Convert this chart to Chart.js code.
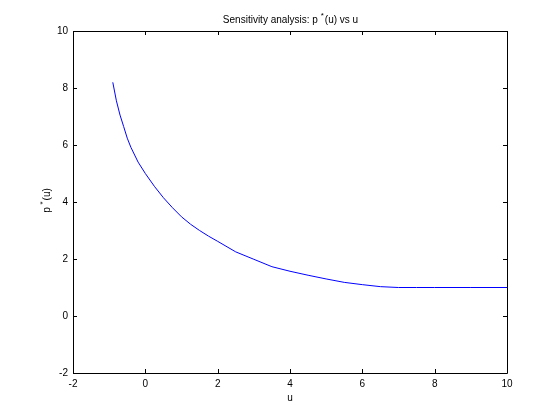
<!DOCTYPE html>
<html>
<head>
<meta charset="utf-8">
<script src="https://cdn.jsdelivr.net/npm/chart.js@4/dist/chart.umd.min.js"></script>
<style>
  html, body { margin: 0; padding: 0; background: #fff; }
  #wrap { width: 560px; height: 420px; }
</style>
</head>
<body>
<div id="wrap"><canvas id="chart"></canvas></div>
<script>
// ===============================
// Data
// ===============================
const uValues = [-0.9, -0.8, -0.7, -0.6, -0.5, -0.4, -0.2, 0, 0.25, 0.5, 0.75, 1, 1.25, 1.5, 1.75, 2, 2.5, 3, 3.5, 4, 4.5, 5, 5.5, 6, 6.5, 7, 7.5, 8, 9, 10];
const pStar   = [8.2, 7.55, 7.05, 6.65, 6.24, 5.92, 5.4, 5.0, 4.55, 4.15, 3.8, 3.48, 3.22, 3.0, 2.8, 2.62, 2.25, 1.99, 1.73, 1.57, 1.43, 1.3, 1.18, 1.1, 1.03, 1.0, 1.0, 1.0, 1.0, 1.0];
const xTicks = [-2, 0, 2, 4, 6, 8, 10];
const yTicks = [-2, 0, 2, 4, 6, 8, 10];

const FONT = '"Liberation Sans Narrow", "Liberation Sans", Arial, sans-serif';

// ===============================
// Box, inward ticks and labels
// ===============================
const matlabAxes = {
  id: "matlabAxes",
  afterDraw(chart) {
    const { ctx, chartArea: a, scales } = chart;
    ctx.save();
    ctx.strokeStyle = "#000";
    ctx.lineWidth = 1;
    ctx.beginPath();
    ctx.rect(Math.round(a.left) + 0.5, Math.round(a.top) + 0.5,
             Math.round(a.right - a.left), Math.round(a.bottom - a.top));
    ctx.stroke();

    // ticks point inward, on all four sides
    ctx.beginPath();
    xTicks.forEach(v => {
      const x = Math.round(scales.x.getPixelForValue(v)) + 0.5;
      ctx.moveTo(x, a.bottom); ctx.lineTo(x, a.bottom - 4);
      ctx.moveTo(x, a.top); ctx.lineTo(x, a.top + 4);
    });
    yTicks.forEach(v => {
      const y = Math.round(scales.y.getPixelForValue(v)) + 0.5;
      ctx.moveTo(a.left, y); ctx.lineTo(a.left + 4, y);
      ctx.moveTo(a.right, y); ctx.lineTo(a.right - 4, y);
    });
    ctx.stroke();

    ctx.fillStyle = "#000";
    ctx.textBaseline = "middle";

    // title with superscript star
    const cx = (a.left + a.right) / 2;
    ctx.font = "10px " + FONT;
    const t1 = "Sensitivity analysis: p ", t2 = "*", t3 = "(u) vs u";
    const w1 = ctx.measureText(t1).width;
    ctx.font = "8px " + FONT;
    const w2 = ctx.measureText(t2).width;
    ctx.font = "10px " + FONT;
    const w3 = ctx.measureText(t3).width;
    let x0 = cx - (w1 + w2 + w3) / 2;
    ctx.textAlign = "left";
    ctx.fillText(t1, x0, 20);
    ctx.font = "8px " + FONT;
    ctx.fillText(t2, x0 + w1, 16);
    ctx.font = "10px " + FONT;
    ctx.fillText(t3, x0 + w1 + w2 + 1, 20);

    // x label
    ctx.textAlign = "center";
    ctx.fillText("u", cx, 398);

    // y label, rotated
    ctx.save();
    ctx.translate(47, (a.top + a.bottom) / 2 - 1);
    ctx.rotate(-Math.PI / 2);
    const w4 = ctx.measureText("p ").width;
    ctx.font = "8px " + FONT;
    const w5 = ctx.measureText("*").width;
    ctx.font = "10px " + FONT;
    const w6 = ctx.measureText("(u)").width;
    let y0 = -(w4 + w5 + w6) / 2;
    ctx.textAlign = "left";
    ctx.fillText("p ", y0, 0);
    ctx.font = "8px " + FONT;
    ctx.fillText("*", y0 + w4, -4);
    ctx.font = "10px " + FONT;
    ctx.fillText("(u)", y0 + w4 + w5 + 1, 0);
    ctx.restore();

    ctx.restore();
  }
};

// ===============================
// Chart
// ===============================
const ctx = document.getElementById("chart");
new Chart(ctx, {
  type: "line",
  data: {
    datasets: [{
      data: uValues.map((u, i) => ({ x: u, y: pStar[i] })),
      borderColor: "#0000ff",
      borderWidth: 1,
      pointRadius: 0,
      tension: 0,
      fill: false
    }]
  },
  options: {
    responsive: true,
    maintainAspectRatio: false,
    animation: false,
    layout: { padding: { left: 0, right: 53, top: 31, bottom: 0 } },
    plugins: {
      legend: { display: false },
      tooltip: { enabled: false }
    },
    scales: {
      x: {
        type: "linear",
        min: -2,
        max: 10,
        afterBuildTicks: s => { s.ticks = xTicks.map(v => ({ value: v })); },
        afterFit: s => { s.height = 47; },
        grid: { display: false, drawTicks: false },
        border: { display: false },
        ticks: { color: "#000", padding: 5, maxRotation: 0, font: { family: FONT, size: 10 } }
      },
      y: {
        type: "linear",
        min: -2,
        max: 10,
        afterBuildTicks: s => { s.ticks = yTicks.map(v => ({ value: v })); },
        afterFit: s => { s.width = 73; },
        grid: { display: false, drawTicks: false },
        border: { display: false },
        ticks: { color: "#000", padding: 5, font: { family: FONT, size: 10 } }
      }
    }
  },
  plugins: [matlabAxes]
});
</script>
</body>
</html>
